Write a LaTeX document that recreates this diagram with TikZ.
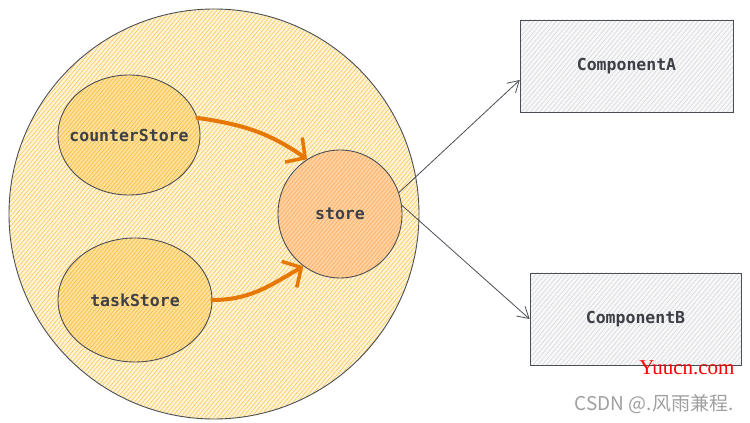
\documentclass[tikz,border=0pt]{standalone}
\usepackage{fontspec}
\setmonofont{DejaVu Sans Mono}
\newfontfamily\cjkfont{Noto Sans CJK SC}
\newfontfamily\wmserif{Liberation Serif}
\usetikzlibrary{shapes.geometric,patterns.meta,arrows.meta}
\definecolor{txt}{HTML}{3D4047}
\definecolor{edge}{HTML}{4A4E55}
\definecolor{bigfill}{HTML}{FFF4D9}
\definecolor{bighatch}{HTML}{FCCB5C}
\definecolor{smallfill}{HTML}{FFE29E}
\definecolor{smallhatch}{HTML}{F9BC40}
\definecolor{storefill}{HTML}{FFD3A3}
\definecolor{storehatch}{HTML}{FFAC5E}
\definecolor{rectfill}{HTML}{F7F7F8}
\definecolor{recthatch}{HTML}{D2D4D8}
\definecolor{orangearrow}{HTML}{E67700}
\tikzset{
  lbl/.style={font=\ttfamily\bfseries\fontsize{16.5}{18}\selectfont, text=txt},
  bigcirc/.style={circle, draw=edge, line width=0.9pt, inner sep=0pt,
    preaction={fill=bigfill},
    pattern={Lines[angle=50,distance=3.2pt,line width=0.7pt]}, pattern color=bighatch},
  substore/.style={ellipse, draw=edge, line width=0.9pt, inner ysep=0pt, inner xsep=-25pt, lbl,
    preaction={fill=smallfill},
    pattern={Lines[angle=50,distance=3pt,line width=0.7pt]}, pattern color=smallhatch},
  mainstore/.style={ellipse, draw=edge, line width=0.9pt, inner ysep=0pt, inner xsep=-10pt, lbl,
    preaction={fill=storefill},
    pattern={Lines[angle=50,distance=3pt,line width=0.7pt]}, pattern color=storehatch},
  compbox/.style={rectangle, draw=edge, line width=0.9pt, inner sep=0pt, lbl,
    minimum width=212pt, minimum height=92pt,
    preaction={fill=rectfill},
    pattern={Lines[angle=50,distance=3.5pt,line width=0.5pt]}, pattern color=recthatch},
  grayarrow/.style={draw=edge, line width=0.8pt, -{Straight Barb[length=11pt,width=13pt,line width=0.8pt]}},
  orarrow/.style={draw=orangearrow, line width=4pt, line cap=round,
    -{Straight Barb[length=14pt,width=30pt,line width=3.5pt]}}
}
\begin{document}
\begin{tikzpicture}[x=1pt,y=1pt]
\useasboundingbox (0,0) rectangle (750,423);
\node[bigcirc, minimum size=410pt] (outer) at (214,209) {};
\node[substore, minimum width=142pt, minimum height=120pt] (cs) at (129,288) {counterStore};
\node[substore, minimum width=154pt, minimum height=124pt] (ts) at (135,123) {taskStore};
\node[mainstore, minimum width=124pt, minimum height=128pt] (store) at (340,209) {store};
\node[compbox, minimum width=213pt] (compA) at (626.5,357) {ComponentA};
\node[compbox, minimum width=211pt] (compB) at (635.5,104) {ComponentB};
\draw[orarrow] (cs.14) to[out=-8,in=145] (store.121);
\draw[orarrow] (ts.east) to[out=0,in=210] (store.235);
\draw[grayarrow] (store.20) -- ([yshift=-14pt]compA.west);
\draw[grayarrow] (store.8) -- (compB.west);
\node[text=red, font=\wmserif\fontsize{21}{23}\selectfont, anchor=east] (wm1) at (738,55) {Yuucn.com};
\node[text=gray!75, font=\cjkfont\fontsize{19}{21}\selectfont, anchor=east] (wm2) at (737,19) {CSDN @.风雨兼程.};
\end{tikzpicture}
\end{document}
